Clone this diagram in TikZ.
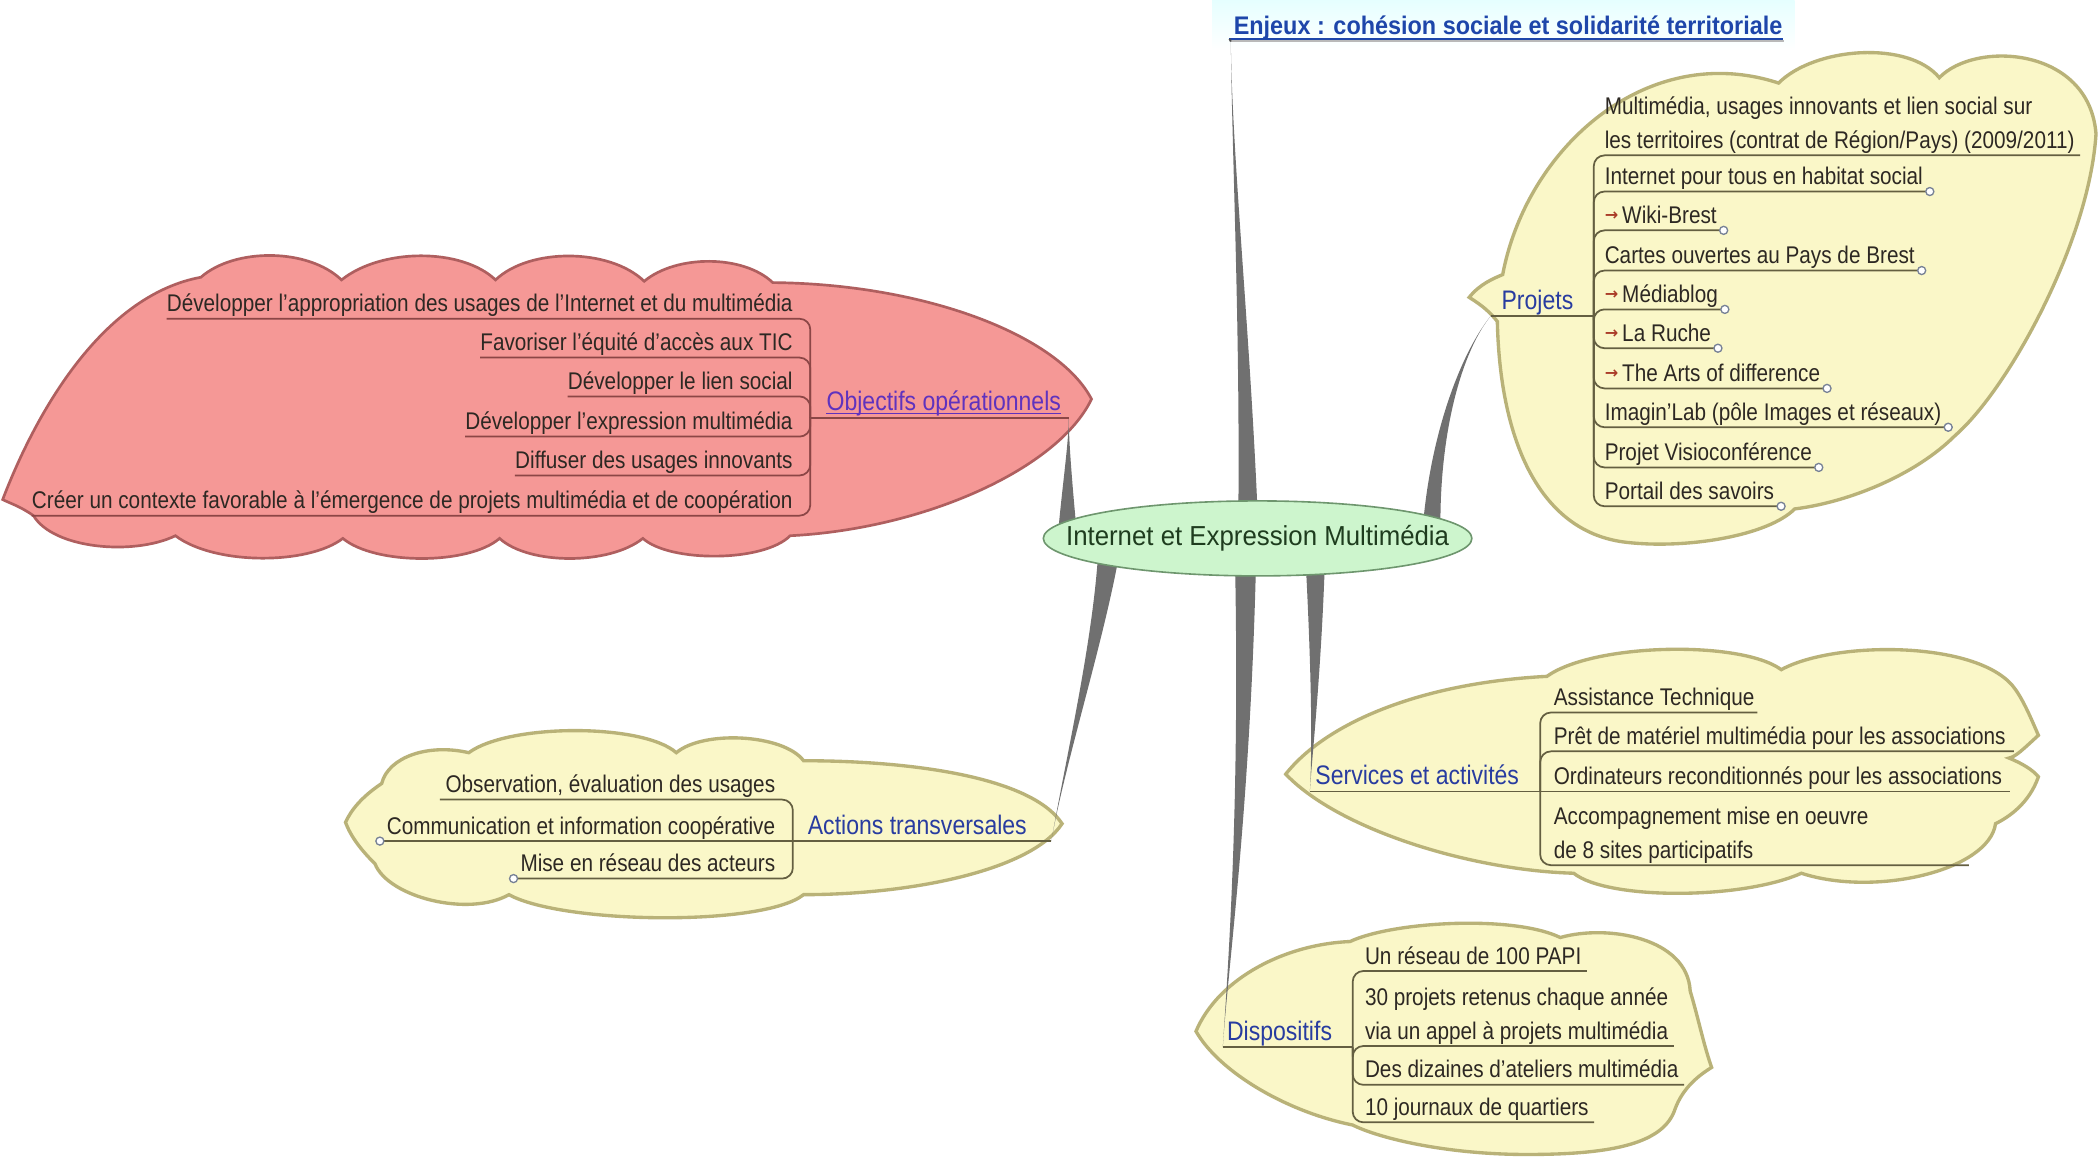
\documentclass[tikz,border=0pt]{standalone}
\usepackage{fontspec}
\setmainfont{Liberation Sans}[FakeStretch=0.86]
\newfontfamily\centerfont{Liberation Sans}[FakeStretch=0.94]
\newfontfamily\titlefont{Liberation Sans}[FakeStretch=0.92]
\newfontfamily\mmsym{DejaVu Sans}
\usetikzlibrary{calc}
\definecolor{redfill}{RGB}{245,152,150}
\definecolor{redline}{RGB}{175,95,95}
\definecolor{redchild}{RGB}{140,70,70}
\definecolor{yelfill}{RGB}{250,247,200}
\definecolor{yelline}{RGB}{185,178,120}
\definecolor{yelchild}{RGB}{100,95,65}
\definecolor{labelblue}{RGB}{40,60,160}
\definecolor{labelpurple}{RGB}{95,50,190}
\definecolor{txt}{RGB}{45,40,35}
\definecolor{ctrfill}{RGB}{205,245,205}
\definecolor{ctrline}{RGB}{110,150,110}
\definecolor{ctrtext}{RGB}{30,60,30}
\definecolor{conn}{RGB}{112,112,112}
\definecolor{titleblue}{RGB}{30,70,170}
\definecolor{circ}{RGB}{120,130,150}
\definecolor{arrowred}{RGB}{170,60,40}
\newcommand\mmtaper[5]{\fill[conn] ($(#1)+(-#5,0)$) .. controls ($(#2)+(-#5/2,0)$) and (#3) .. (#4) .. controls (#3) and ($(#2)+(#5/2,0)$) .. ($(#1)+(#5,0)$) -- cycle;}
\newcommand\mmarrow{\raisebox{2pt}{\mmsym\bfseries\fontsize{12}{12}\selectfont\textcolor{arrowred}{→}}\,}
\begin{document}
\begin{tikzpicture}[x=1pt,y=-1pt,
  item/.style={inner sep=0pt, text depth=5pt, font=\fontsize{18}{25}\selectfont, text=txt},
  lbl/.style={inner sep=0pt, text depth=5pt, font=\fontsize{20}{24}\selectfont, text=labelblue},
  redcloud/.style={fill=redfill, draw=redline, line width=2pt},
  yelcloud/.style={fill=yelfill, draw=yelline, line width=2.5pt},
  redtie/.style={draw=redchild, line width=1.3pt, rounded corners=8pt},
  yeltie/.style={draw=yelchild, line width=1.3pt, rounded corners=8pt},
  endcirc/.style={draw=circ, fill=white, line width=1pt},
]
\useasboundingbox (0,0) rectangle (1568,873.6);
\fill[white] (0,0) rectangle (1568,873.6);
% title glow
\shade[top color=cyan!10, bottom color=white] (905,0) rectangle (1340,38);

% ---------- clouds ----------
\path[redcloud] (2,373) .. controls (30,300) and (80,220) .. (150,207)
  .. controls (175,185) and (230,185) .. (255,209)
  .. controls (285,185) and (345,185) .. (370,209)
  .. controls (395,185) and (455,185) .. (481,210)
  .. controls (505,190) and (555,190) .. (577,211)
  .. controls (690,212) and (790,250) .. (815,298)
  .. controls (790,350) and (690,395) .. (590,400)
  .. controls (570,420) and (500,420) .. (480,402)
  .. controls (455,422) and (395,422) .. (373,402)
  .. controls (350,422) and (280,422) .. (256,402)
  .. controls (230,422) and (160,422) .. (131,400)
  .. controls (100,415) and (40,410) .. (25,385)
  .. controls (15,378) and (8,376) .. (2,373) -- cycle;

\path[yelcloud] (1097,222) .. controls (1105,212) and (1115,208) .. (1122,205)
  .. controls (1140,110) and (1230,30) .. (1328,62)
  .. controls (1355,35) and (1425,30) .. (1448,58)
  .. controls (1475,30) and (1560,35) .. (1565,100)
  .. controls (1560,180) and (1500,290) .. (1460,325)
  .. controls (1430,355) and (1380,375) .. (1340,380)
  .. controls (1320,400) and (1260,410) .. (1215,405)
  .. controls (1150,398) and (1120,330) .. (1118,240)
  .. controls (1110,230) and (1103,226) .. (1097,222) -- cycle;

\path[yelcloud] (960,578) .. controls (990,540) and (1060,510) .. (1155,505)
  .. controls (1190,480) and (1300,478) .. (1330,500)
  .. controls (1370,478) and (1480,478) .. (1505,515)
  .. controls (1512,525) and (1518,540) .. (1522,549)
  .. controls (1510,560) and (1505,565) .. (1500,566)
  .. controls (1510,570) and (1518,575) .. (1522,580)
  .. controls (1515,600) and (1500,610) .. (1490,615)
  .. controls (1485,650) and (1400,670) .. (1345,652)
  .. controls (1300,672) and (1200,672) .. (1175,652)
  .. controls (1100,650) and (1000,620) .. (960,578) -- cycle;

\path[yelcloud] (893,770) .. controls (910,730) and (960,705) .. (1008,703)
  .. controls (1040,688) and (1130,683) .. (1165,700)
  .. controls (1200,690) and (1260,700) .. (1262,740)
  .. controls (1268,760) and (1272,780) .. (1278,797)
  .. controls (1265,805) and (1255,815) .. (1250,830)
  .. controls (1240,855) and (1200,862) .. (1140,862)
  .. controls (1080,862) and (1030,850) .. (1010,840)
  .. controls (960,830) and (910,800) .. (893,770) -- cycle;

\path[yelcloud] (793,615) .. controls (770,580) and (680,568) .. (600,568)
  .. controls (585,548) and (525,545) .. (505,562)
  .. controls (480,540) and (380,540) .. (350,562)
  .. controls (320,555) and (290,565) .. (285,585)
  .. controls (270,595) and (262,605) .. (258,614)
  .. controls (262,625) and (270,635) .. (280,645)
  .. controls (290,670) and (350,685) .. (380,668)
  .. controls (420,690) and (570,692) .. (600,668)
  .. controls (680,668) and (770,650) .. (793,615) -- cycle;

% ---------- junction coordinates ----------
\coordinate (jEnj) at (919,31);
\coordinate (jObj) at (798,312);
\coordinate (jPro) at (1113,236);
\coordinate (jSer) at (978,591);
\coordinate (jDis) at (913,782);
\coordinate (jAct) at (785,628);
\coordinate (sEnj) at (932,395);
\coordinate (sObj) at (797,398);
\coordinate (sPro) at (1069,392);
\coordinate (sSer) at (982,412);
\coordinate (sDis) at (930,412);
\coordinate (sAct) at (828,412);

% ---------- tapered main connectors ----------
\mmtaper{sEnj}{930,250}{920,120}{jEnj}{7.5}
\mmtaper{sObj}{797,360}{798,330}{jObj}{7}
\mmtaper{sPro}{1072,320}{1092,262}{jPro}{6.5}
\mmtaper{sSer}{983,500}{980,560}{jSer}{7.5}
\mmtaper{sDis}{930,600}{917,720}{jDis}{8}
\mmtaper{sAct}{820,480}{795,570}{jAct}{8}

% ---------- central node ----------
\path[fill=ctrfill, draw=ctrline, line width=1.2pt] (939,402) ellipse [x radius=160, y radius=28];
\node[inner sep=0pt, font=\centerfont\fontsize{20.5}{24}\selectfont, text=ctrtext] (ctr) at (939,402) {Internet et Expression Multimédia};

% ---------- title ----------
\node[inner sep=0pt, text depth=3pt, anchor=south west, font=\titlefont\bfseries\fontsize{19}{22}\selectfont, text=titleblue] (title) at (921,29) {Enjeux : cohésion sociale et solidarité territoriale};
\draw[gray!55, line width=1.5pt] ($(title.south west)+(-2,1.6)$) -- ($(title.south east)+(1,1.6)$);
\draw[titleblue, line width=1.3pt] ($(title.south west)+(-3,0)$) -- (title.south east);
\draw[conn!70!black, line width=1.3pt] (jEnj) -- ($(title.south west)+(-3,0)$);

% ---------- Objectifs opérationnels ----------
\node[lbl, anchor=south west, text=labelpurple] (obj) at (617,312) {Objectifs opérationnels};
\coordinate (tObj) at (605,312);
\draw[redchild, line width=1.3pt] (tObj) -- (jObj);
\draw[labelpurple, line width=0.8pt] ($(obj.south west)+(0,-3)$) -- ($(obj.south east)+(0,-3)$);
\node[item, anchor=south east] (r1) at (592,238) {Développer l'appropriation des usages de l'Internet et du multimédia};
\node[item, anchor=south east] (r2) at (592,267) {Favoriser l'équité d'accès aux TIC};
\node[item, anchor=south east] (r3) at (592,296) {Développer le lien social};
\node[item, anchor=south east] (r4) at (592,326) {Développer l'expression multimédia};
\node[item, anchor=south east] (r5) at (592,355) {Diffuser des usages innovants};
\node[item, anchor=south east] (r6) at (592,385) {Créer un contexte favorable à l'émergence de projets multimédia et de coopération};
\foreach \n in {r1,r2,r3,r4,r5,r6}{
  \draw[redtie] (tObj) -- (tObj |- \n.south) -- (\n.south west);
}

% ---------- Projets ----------
\node[lbl, anchor=south west] (pro) at (1121,236) {Projets};
\coordinate (tPro) at (1190,236);
\draw[yelchild, line width=1.3pt] (jPro) -- (tPro);
\node[item, anchor=south west, align=left] (p1) at (1198,116) {Multimédia, usages innovants et lien social sur\\les territoires (contrat de Région/Pays) (2009/2011)};
\node[item, anchor=south west] (p2) at (1198,143) {Internet pour tous en habitat social};
\node[item, anchor=south west] (p3) at (1198,172) {\mmarrow Wiki-Brest};
\node[item, anchor=south west] (p4) at (1198,202) {Cartes ouvertes au Pays de Brest};
\node[item, anchor=south west] (p5) at (1198,231) {\mmarrow Médiablog};
\node[item, anchor=south west] (p6) at (1198,260) {\mmarrow La Ruche};
\node[item, anchor=south west] (p7) at (1198,290) {\mmarrow The Arts of difference};
\node[item, anchor=south west] (p8) at (1198,319) {Imagin'Lab (pôle Images et réseaux)};
\node[item, anchor=south west] (p9) at (1198,349) {Projet Visioconférence};
\node[item, anchor=south west] (p10) at (1198,378) {Portail des savoirs};
\draw[yeltie] (tPro) -- (tPro |- p1.south) -- ($(p1.south east)+(4,0)$);
\foreach \n in {p2,p3,p4,p5,p6,p7,p8,p9,p10}{
  \draw[yeltie] (tPro) -- (tPro |- \n.south) -- ($(\n.south east)+(2,0)$);
  \draw[endcirc] ($(\n.south east)+(5,0)$) circle (3pt);
}

% ---------- Services et activités ----------
\node[lbl, anchor=south west] (ser) at (982,591) {Services et activités};
\coordinate (tSer) at (1150,591);
\draw[yelchild, line width=1.3pt] (jSer) -- (tSer);
\node[item, anchor=south west] (s1) at (1160,532) {Assistance Technique};
\node[item, anchor=south west] (s2) at (1160,561) {Prêt de matériel multimédia pour les associations};
\node[item, anchor=south west] (s3) at (1160,591) {Ordinateurs reconditionnés pour les associations};
\node[item, anchor=south west, align=left] (s4) at (1160,646) {Accompagnement mise en oeuvre\\de 8 sites participatifs};
\draw[yeltie] (tSer) -- (tSer |- s1.south) -- ($(s1.south east)+(2,0)$);
\draw[yeltie] (tSer) -- (tSer |- s2.south) -- ($(s2.south east)+(6,0)$);
\draw[yeltie] (tSer) -- ($(s3.south east)+(6,0)$);
\draw[yeltie] (tSer) -- (tSer |- s4.south) -- ++(320,0);

% ---------- Dispositifs ----------
\node[lbl, anchor=south west] (dis) at (916,782) {Dispositifs};
\coordinate (tDis) at (1010,782);
\draw[yelchild, line width=1.3pt] (jDis) -- (tDis);
\node[item, anchor=south west] (d1) at (1019,725) {Un réseau de 100 PAPI};
\node[item, anchor=south west, align=left] (d2) at (1019,781) {30 projets retenus chaque année\\via un appel à projets multimédia};
\node[item, anchor=south west] (d3) at (1019,810) {Des dizaines d'ateliers multimédia};
\node[item, anchor=south west] (d4) at (1019,838) {10 journaux de quartiers};
\foreach \n in {d1,d2,d3,d4}{
  \draw[yeltie] (tDis) -- (tDis |- \n.south) -- ($(\n.south east)+(4,0)$);
}

% ---------- Actions transversales ----------
\node[lbl, anchor=south west] (act) at (603,628) {Actions transversales};
\coordinate (tAct) at (592,628);
\draw[yelchild, line width=1.3pt] (jAct) -- (tAct);
\node[item, anchor=south east] (a1) at (579,597) {Observation, évaluation des usages};
\node[item, anchor=south east] (a2) at (579,628) {Communication et information coopérative};
\node[item, anchor=south east] (a3) at (579,656) {Mise en réseau des acteurs};
\draw[yeltie] (tAct) -- (tAct |- a1.south) -- ($(a1.south west)+(-4,0)$);
\draw[yeltie] (tAct) -- ($(a2.south west)+(-2,0)$);
\draw[endcirc] ($(a2.south west)+(-5,0)$) circle (3pt);
\draw[yeltie] (tAct) -- (tAct |- a3.south) -- ($(a3.south west)+(-2,0)$);
\draw[endcirc] ($(a3.south west)+(-5,0)$) circle (3pt);
\end{tikzpicture}
\end{document}
